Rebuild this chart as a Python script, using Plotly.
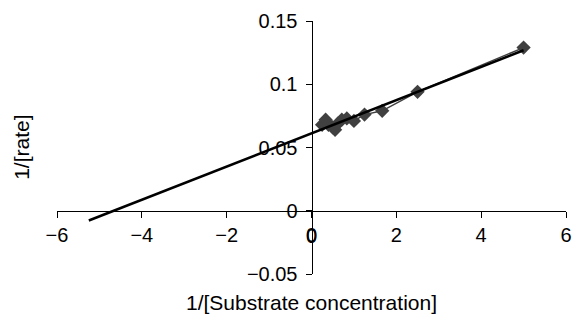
import numpy as np
import plotly.graph_objects as go

# Data
inv_s = [0.25, 0.333, 0.4, 0.5, 0.556, 0.625, 0.714, 0.833, 1.0, 1.25, 1.667, 2.5, 5.0]
inv_v = [0.068, 0.072, 0.068, 0.066, 0.064, 0.069, 0.072, 0.073, 0.071, 0.076, 0.079, 0.094, 0.129]
trend_x_start = -5.25
x_range = [-6, 6]
y_range = [-0.05, 0.15]
x_ticks = [-6, -4, -2, 0, 2, 4, 6]
x_tick_text = ["\u22126", "\u22124", "\u22122", "0", "2", "4", "6"]
y_ticks = [-0.05, 0, 0.05, 0.1, 0.15]
y_tick_text = ["\u22120.05", "0", "0.05", "0.1", "0.15"]
x_title = "1/[Substrate concentration]"
y_title = "1/[rate]"

slope, intercept = np.polyfit(inv_s, inv_v, 1)
tx = np.array([trend_x_start, max(inv_s)])
ty = intercept + slope * tx

tick_font = dict(family="Liberation Sans, Arial, sans-serif", size=20, color="#000000")
title_font = dict(family="Liberation Sans, Arial, sans-serif", size=21, color="#000000")

fig = go.Figure()
fig.add_trace(go.Scatter(
    x=inv_s, y=inv_v, mode="lines+markers",
    line=dict(color="#404040", width=1.5),
    marker=dict(symbol="diamond", size=11, color="#404040"),
    showlegend=False,
))
fig.add_trace(go.Scatter(
    x=tx, y=ty, mode="lines",
    line=dict(color="#000000", width=2.5),
    showlegend=False,
))

xpos = (0 - y_range[0]) / (y_range[1] - y_range[0])
ypos = (0 - x_range[0]) / (x_range[1] - x_range[0])

# plotly drops the x tick label sitting on the crossing y axis; restore it as text
zero_idx = x_ticks.index(0)

fig.update_layout(
    width=577, height=320,
    margin=dict(l=57, r=5, t=21, b=46),
    paper_bgcolor="white", plot_bgcolor="white",
    font=tick_font,
    xaxis=dict(range=x_range, tickvals=x_ticks, ticktext=x_tick_text, showgrid=False, zeroline=False,
               showline=True, linecolor="black", linewidth=1,
               ticks="outside", ticklen=6, tickcolor="black", tickwidth=1,
               anchor="free", position=xpos, tickfont=tick_font,
               ticklabeloverflow="allow"),
    yaxis=dict(range=y_range, tickvals=y_ticks, ticktext=y_tick_text, showgrid=False, zeroline=False,
               showline=True, linecolor="black", linewidth=1,
               ticks="outside", ticklen=6, tickcolor="black", tickwidth=1,
               anchor="free", position=ypos, tickfont=tick_font, domain=[0, 1],
               ticklabelstandoff=4, ticklabeloverflow="allow"),
    annotations=[
        dict(text=x_title, xref="paper", yref="paper", x=0.5, y=-0.113,
             xanchor="center", yanchor="middle", showarrow=False, font=title_font),
        dict(text=y_title, xref="paper", yref="paper", x=-0.07, y=0.5,
             xanchor="center", yanchor="middle", textangle=-90, showarrow=False, font=title_font),
        dict(text=x_tick_text[zero_idx], xref="x", yref="y", x=x_ticks[zero_idx], y=0,
             xanchor="center", yanchor="top", yshift=-12, showarrow=False, font=tick_font),
    ],
)

fig.write_html("out.html")
